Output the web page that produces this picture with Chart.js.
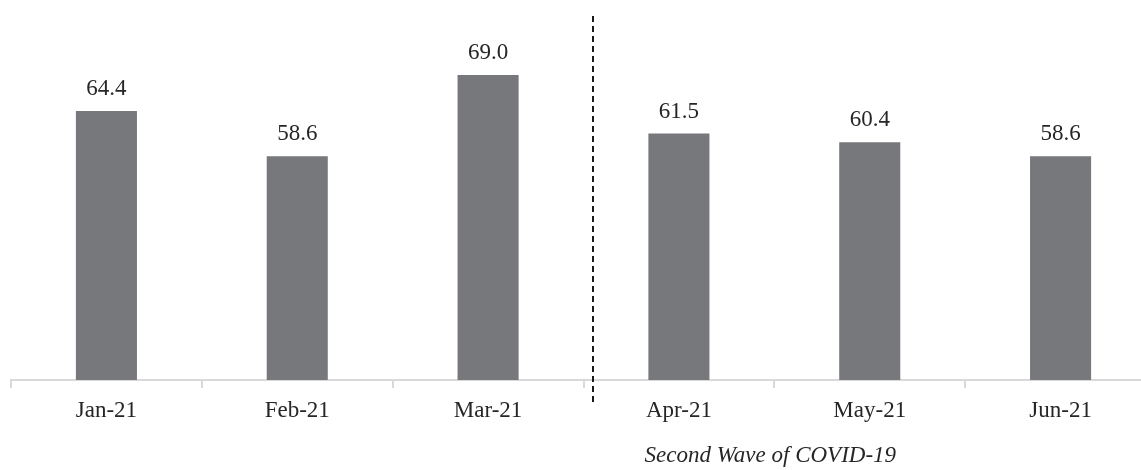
<!DOCTYPE html>
<html>
<head>
<meta charset="utf-8">
<script src="https://cdn.jsdelivr.net/npm/chart.js@4/dist/chart.umd.min.js"></script>
<style>
  html, body { margin: 0; padding: 0; background: #fff; overflow: hidden; }
  /* plot runs a little past the right edge, as in the source image */
  #wrap { width: 1156px; height: 470px; }
</style>
</head>
<body>
<div id="wrap"><canvas id="pmiChart"></canvas></div>
<script>
const months = ['Jan-21', 'Feb-21', 'Mar-21', 'Apr-21', 'May-21', 'Jun-21'];
const pmiValues = [64.4, 58.6, 69.0, 61.5, 60.4, 58.6];
const dividerAt = 2.55;          // between Mar-21 and Apr-21
const waveNoteAt = 3.5;          // note centred under Apr/May
const waveNote = 'Second Wave of COVID-19';

const serif = '"Liberation Serif", "Times New Roman", serif';

// value labels, divider line and the note under the axis
const extrasPlugin = {
    id: 'extras',
    afterDatasetsDraw(chart) {
        const ctx = chart.ctx;
        const x = chart.scales.x;
        const area = chart.chartArea;

        ctx.save();
        ctx.font = '23px ' + serif;
        ctx.fillStyle = '#262626';
        ctx.textAlign = 'center';
        ctx.textBaseline = 'alphabetic';
        chart.getDatasetMeta(0).data.forEach((bar, i) => {
            ctx.fillText(pmiValues[i].toFixed(1), bar.x, bar.y - 16);
        });

        const dx = Math.round(x.getPixelForValue(dividerAt));
        ctx.strokeStyle = '#1a1a1a';
        ctx.lineWidth = 2;
        ctx.setLineDash([6, 4]);
        ctx.beginPath();
        ctx.moveTo(dx, area.top - 12);
        ctx.lineTo(dx, area.bottom + 26);
        ctx.stroke();
        ctx.setLineDash([]);

        ctx.font = 'italic 23px ' + serif;
        ctx.textBaseline = 'middle';
        ctx.fillText(waveNote, x.getPixelForValue(waveNoteAt) - 4, area.bottom + 76);
        ctx.restore();
    }
};

new Chart(document.getElementById('pmiChart').getContext('2d'), {
    type: 'bar',
    data: {
        labels: months,
        datasets: [{
            data: pmiValues,
            backgroundColor: '#77787b',
            borderWidth: 0,
            barPercentage: 0.32,
            categoryPercentage: 1
        }]
    },
    options: {
        responsive: true,
        maintainAspectRatio: false,
        animation: false,
        layout: {
            padding: { top: 28, left: 11, right: 0, bottom: 0 }
        },
        plugins: {
            legend: { display: false },
            tooltip: { enabled: false }
        },
        scales: {
            x: {
                afterFit: (scale) => { scale.height = 90; },
                border: { color: '#d9d9d9', width: 2 },
                grid: {
                    offset: true,
                    drawOnChartArea: false,
                    drawTicks: true,
                    tickLength: 8,
                    color: '#d9d9d9',
                    lineWidth: 2
                },
                ticks: {
                    color: '#262626',
                    padding: 9,
                    font: { family: serif, size: 23 }
                }
            },
            y: {
                display: false,
                min: 30,
                max: 75
            }
        }
    },
    plugins: [extrasPlugin]
});
</script>
</body>
</html>
